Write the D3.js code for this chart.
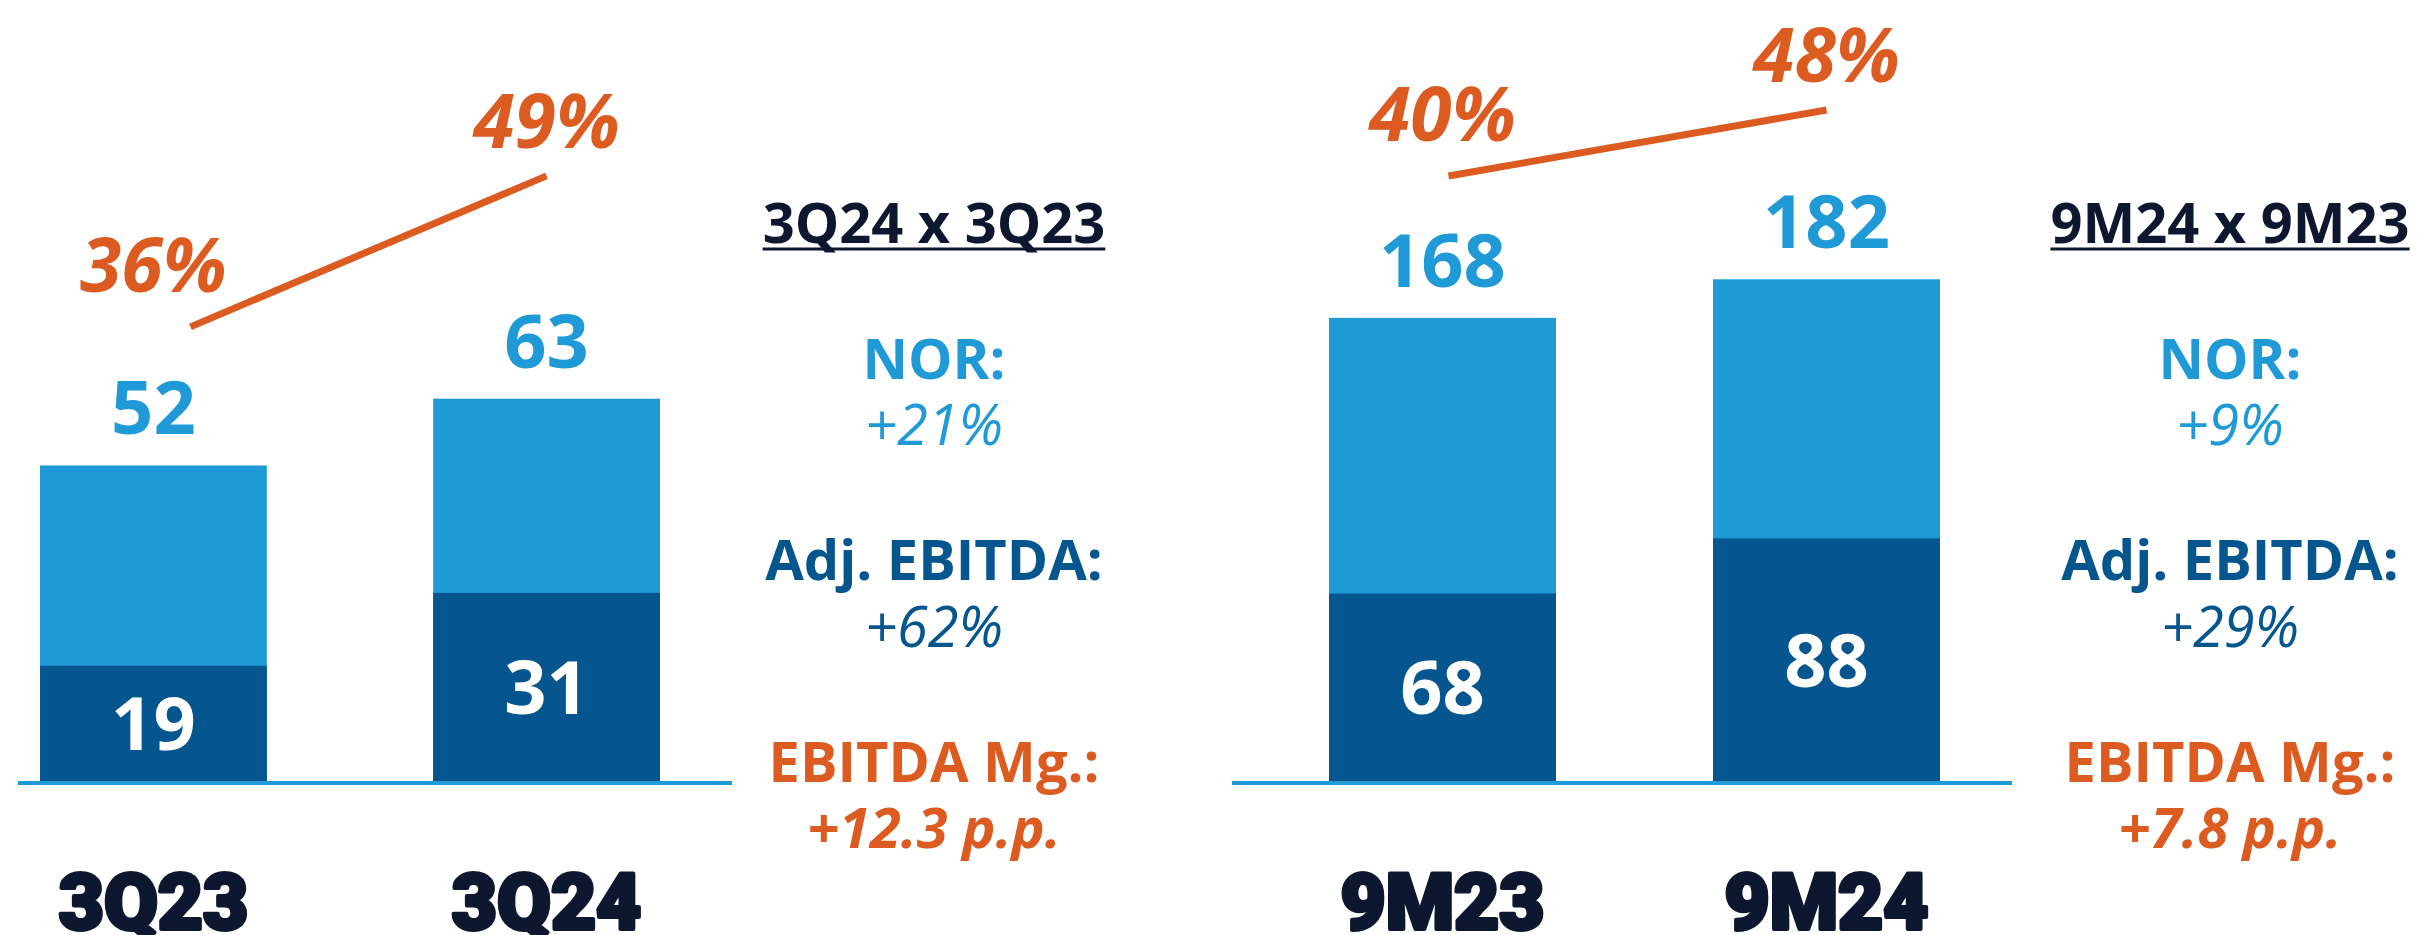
<!DOCTYPE html>
<html><head><meta charset="utf-8">
<script src="https://cdn.jsdelivr.net/npm/d3@7"></script>
<style>body{margin:0;background:#fff;overflow:hidden}</style>
</head><body><svg id="c" width="2418" height="935"></svg>
<script>
// ---- data ----
const quarterCategories = ["3Q23", "3Q24"];
const quarterNOR = [52, 63];
const quarterEBITDA = [19, 31];
const quarterMargin = [36, 49];
const quarterSummaryTitle = "3Q24 x 3Q23";
const quarterSummaryLabels = ["NOR:", "Adj. EBITDA:", "EBITDA Mg.:"];
const quarterSummaryValues = ["+21%", "+62%", "+12.3 p.p."];

const ytdCategories = ["9M23", "9M24"];
const ytdNOR = [168, 182];
const ytdEBITDA = [68, 88];
const ytdMargin = [40, 48];
const ytdSummaryTitle = "9M24 x 9M23";
const ytdSummaryLabels = ["NOR:", "Adj. EBITDA:", "EBITDA Mg.:"];
const ytdSummaryValues = ["+9%", "+29%", "+7.8 p.p."];

// ---- style ----
const C = {light: "#209ad6", dark: "#05558f", orange: "#dc5b20", navy: "#0e1730"};
const rowColors = [C.light, C.dark, C.orange];
const baseY = 781;

const panels = [
  {cats: quarterCategories, nor: quarterNOR, ebitda: quarterEBITDA, margin: quarterMargin,
   title: quarterSummaryTitle, labels: quarterSummaryLabels, values: quarterSummaryValues,
   xRange: [40, 660], padInner: 0.423, yMax: 128.7, axisX: [18, 732],
   mZero: 745, mPx: 11.615, lineInset: 37, summaryX: 934},
  {cats: ytdCategories, nor: ytdNOR, ebitda: ytdEBITDA, margin: ytdMargin,
   title: ytdSummaryTitle, labels: ytdSummaryLabels, values: ytdSummaryValues,
   xRange: [1329, 1940], padInner: 0.409, yMax: 283.3, axisX: [1232, 2012],
   mZero: 506, mPx: 8.25, lineInset: 6, summaryX: 2230}
];

const svg = d3.select("#c");

panels.forEach(p => {
  const g = svg.append("g");
  const x = d3.scaleBand().domain(p.cats).range(p.xRange).paddingInner(p.padInner).paddingOuter(0);
  const y = d3.scaleLinear().domain([0, p.yMax]).range([baseY, 0]);
  const ym = d3.scaleLinear().domain([0, 60]).range([p.mZero, p.mZero - 60 * p.mPx]);
  const rows = p.cats.map((c, i) => ({c, nor: p.nor[i], e: p.ebitda[i], m: p.margin[i]}));

  g.selectAll(".nor").data(rows).join("rect")
    .attr("x", d => x(d.c)).attr("width", x.bandwidth())
    .attr("y", d => y(d.nor)).attr("height", d => y(0) - y(d.nor))
    .attr("fill", C.light);
  g.selectAll(".eb").data(rows).join("rect")
    .attr("x", d => x(d.c)).attr("width", x.bandwidth())
    .attr("y", d => y(d.e)).attr("height", d => y(0) - y(d.e))
    .attr("fill", C.dark);

  g.append("line").attr("x1", p.axisX[0]).attr("x2", p.axisX[1])
    .attr("y1", baseY + 2).attr("y2", baseY + 2)
    .attr("stroke", C.light).attr("stroke-width", 4);

  g.selectAll(".norl").data(rows).join("text")
    .attr("x", d => x(d.c) + x.bandwidth() / 2).attr("y", d => y(d.nor) - 31)
    .attr("text-anchor", "middle").attr("font-family", "Open Sans").attr("font-weight", 700)
    .attr("font-size", 74).attr("fill", C.light).text(d => d.nor);
  g.selectAll(".ebl").data(rows).join("text")
    .attr("x", d => x(d.c) + x.bandwidth() / 2).attr("y", d => (y(d.e) + y(0)) / 2 + 27)
    .attr("text-anchor", "middle").attr("font-family", "Open Sans").attr("font-weight", 700)
    .attr("font-size", 74).attr("fill", "#fff").text(d => d.e);

  const pts = rows.map((d, i) => [x(d.c) + x.bandwidth() / 2 + (i === 0 ? p.lineInset : 0), ym(d.m)]);
  g.append("path").attr("d", d3.line()(pts)).attr("stroke", C.orange)
    .attr("stroke-width", 7).attr("fill", "none");
  g.selectAll(".ml").data(rows).join("text")
    .attr("x", d => x(d.c) + x.bandwidth() / 2).attr("y", (d, i) => pts[i][1] - (i === 0 ? 35 : 28))
    .attr("text-anchor", "middle").attr("font-family", "Open Sans").attr("font-weight", 700)
    .attr("font-style", "italic").attr("font-size", 75).attr("fill", C.orange).text(d => d.m + "%");

  g.selectAll(".cat").data(rows).join("text")
    .attr("x", d => x(d.c) + x.bandwidth() / 2).attr("y", 929)
    .attr("text-anchor", "middle").attr("font-family", "Roboto, Lato, 'Open Sans'").attr("font-weight", 900)
    .attr("font-size", 78).attr("fill", C.navy)
    .attr("stroke", C.navy).attr("stroke-width", 4).attr("stroke-linejoin", "round")
    .text(d => d.c);

  const s = svg.append("g").attr("font-family", "Open Sans").attr("text-anchor", "middle");
  const t = s.append("text").attr("x", p.summaryX).attr("y", 243)
    .attr("font-weight", 700).attr("font-size", 56).attr("fill", C.navy).text(p.title);
  const w = t.node().getComputedTextLength();
  s.append("line").attr("x1", p.summaryX - w / 2).attr("x2", p.summaryX + w / 2)
    .attr("y1", 249).attr("y2", 249).attr("stroke", C.navy).attr("stroke-width", 3);
  const labelY = [379, 580, 782], valueY = [445, 647, 848];
  p.labels.forEach((l, i) => {
    s.append("text").attr("x", p.summaryX).attr("y", labelY[i]).attr("font-weight", 700)
      .attr("font-size", 56).attr("fill", rowColors[i]).text(l);
    s.append("text").attr("x", p.summaryX).attr("y", valueY[i]).attr("font-weight", i === 2 ? 700 : 400)
      .attr("font-style", "italic").attr("font-size", 56).attr("fill", rowColors[i]).text(p.values[i]);
  });
});
</script></body></html>
